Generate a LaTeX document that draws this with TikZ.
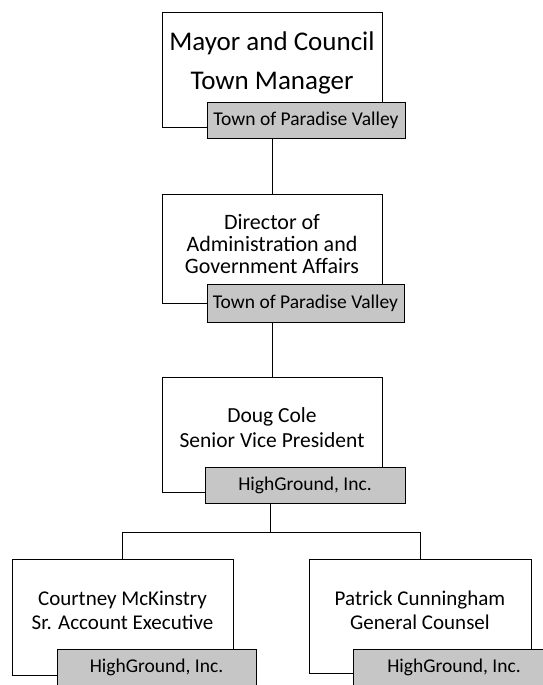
\documentclass[tikz,border=0pt]{standalone}
\usepackage{fontspec}
\setmainfont{Carlito}
\begin{document}
\begin{tikzpicture}[x=1pt,y=-1pt,
  box/.style={draw=black,line width=0.8pt,fill=white,rectangle,inner sep=0pt},
  lab/.style={draw=black,line width=0.8pt,fill=gray!45,rectangle,inner sep=0pt,font=\fontsize{19.5}{22}\selectfont},
  txt/.style={inner sep=0pt,align=center},
  conn/.style={draw=black,line width=0.8pt}]
\useasboundingbox (0,0) rectangle (543,685);
\clip (0,0) rectangle (543,685);
% boxes
\node[box,minimum width=220pt,minimum height=115pt] (b1) at (272,69.5) {};
\node[lab,minimum width=198pt,minimum height=36pt] (l1) at (306,120) {Town of Paradise Valley};
\node[txt,font=\fontsize{27}{39}\selectfont] (t1) at (272,63) {Mayor and Council\\Town Manager};

\node[box,minimum width=220pt,minimum height=109pt] (b2) at (272,248.5) {};
\node[lab,minimum width=197pt,minimum height=38pt] (l2) at (305.5,303) {Town of Paradise Valley};
\node[txt,font=\fontsize{22}{21.8}\selectfont] (t2) at (272,244) {Director of\\Administration and\\Government Affairs};

\node[box,minimum width=220pt,minimum height=115pt] (b3) at (272,434.5) {};
\node[lab,minimum width=200pt,minimum height=36pt] (l3) at (305,485) {HighGround, Inc.};
\node[txt,font=\fontsize{21.5}{25}\selectfont] (t3) at (272,427.5) {Doug Cole\\Senior Vice President};

\node[box,minimum width=221pt,minimum height=116pt] (b4) at (122.5,617) {};
\node[lab,minimum width=199pt,minimum height=36pt] (l4) at (156.5,667) {HighGround, Inc.};
\node[txt,font=\fontsize{21}{24}\selectfont] (t4) at (122.5,610) {Courtney McKinstry\\Sr. Account Executive};

\node[box,minimum width=222pt,minimum height=114pt] (b5) at (420,616) {};
\node[lab,minimum width=202pt,minimum height=36pt] (l5) at (454,667) {HighGround, Inc.};
\node[txt,font=\fontsize{21}{24}\selectfont] (t5) at (420,610) {Patrick Cunningham\\General Counsel};

% connectors
\draw[conn] (b2.north |- l1.south) -- (b2.north);
\draw[conn] (b3.north |- l2.south) -- (b3.north);
\coordinate (j) at (270,532);
\draw[conn] (l3.south -| j) -- (j);
\draw[conn] (b4.north) -- (b4.north |- j) -- (b5.north |- j) -- (b5.north);
\end{tikzpicture}
\end{document}
